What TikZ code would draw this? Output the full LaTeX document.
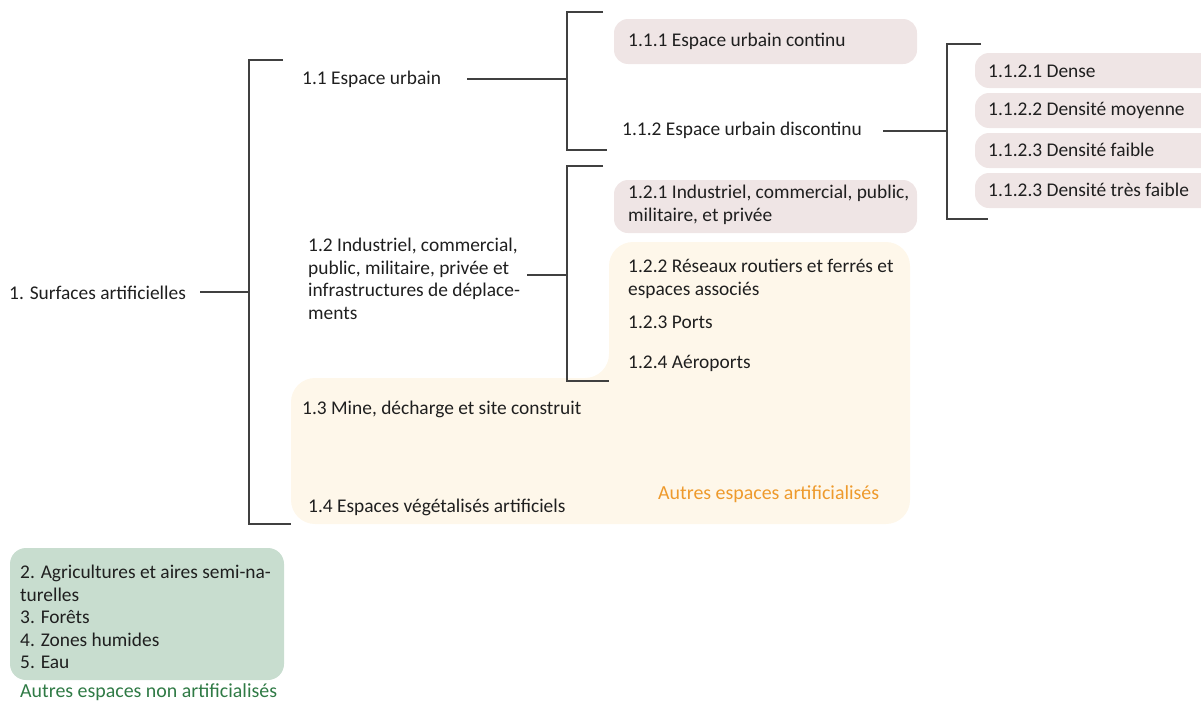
\documentclass[tikz,border=0pt]{standalone}
\usepackage{fontspec}
\setmainfont{Carlito}
\begin{document}
\begin{tikzpicture}[x=1pt,y=-1pt,
  txt/.style={anchor=west,inner sep=0pt,font=\fontsize{19.4}{22.5}\selectfont,text=black!88},
  captxt/.style={anchor=west,inner sep=0pt,font=\fontsize{19.9}{22.5}\selectfont},
  brk/.style={draw=black!75,line width=1.6pt},
]
\definecolor{pinkc}{HTML}{EFE5E5}
\definecolor{peachc}{HTML}{FEF7EA}
\definecolor{greenc}{HTML}{C8DDCF}
\definecolor{orangec}{HTML}{EE9A2C}
\definecolor{greentxt}{HTML}{2F7A45}
\useasboundingbox (0,0) rectangle (1201,707);

% background shapes
\fill[peachc,rounded corners=24pt] (291,524) -- (291,378) -- (609,378) -- (609,242) -- (910,242) -- (910,524) -- cycle;
\fill[pinkc,rounded corners=14pt] (614,19) rectangle (917,64);
\fill[pinkc,rounded corners=14pt] (614,180) rectangle (917,233);
\foreach \a/\b in {53/88,93/128,133/168,173/208}
  \fill[pinkc,rounded corners=14pt] (975,\a) rectangle (1215,\b);
\fill[greenc,rounded corners=16pt] (10,548) rectangle (284,680);

% labels
\node[txt] (root) at (9,293) {1. Surfaces artificielles};
\node[txt] (n11) at (302,79) {1.1 Espace urbain};
\node[txt,align=left] (n12) at (308,279) {1.2 Industriel, commercial,\\public, militaire, privée et\\infrastructures de déplace-\\ments};
\node[txt] (n13) at (302,409) {1.3 Mine, décharge et site construit};
\node[txt] (n14) at (308,507) {1.4 Espaces végétalisés artificiels};
\node[txt] (n111) at (628,41) {1.1.1 Espace urbain continu};
\node[txt] (n112) at (622,130) {1.1.2 Espace urbain discontinu};
\node[txt,align=left] (n121) at (628,205) {1.2.1 Industriel, commercial, public,\\militaire, et privée};
\node[txt,align=left] (n122) at (628,279) {1.2.2 Réseaux routiers et ferrés et\\espaces associés};
\node[txt] (n123) at (628,322) {1.2.3 Ports};
\node[txt] (n124) at (628,363) {1.2.4 Aéroports};
\node[captxt,text=orangec] (autres) at (658,494) {Autres espaces artificialisés};
\node[txt] (d1) at (988,71) {1.1.2.1 Dense};
\node[txt] (d2) at (988,110) {1.1.2.2 Densité moyenne};
\node[txt] (d3) at (988,150) {1.1.2.3 Densité faible};
\node[txt] (d4) at (988,190) {1.1.2.3 Densité très faible};
\node[txt,align=left] (others) at (20,617) {2. Agricultures et aires semi-na-\\turelles\\3. Forêts\\4. Zones humides\\5. Eau};
\node[captxt,text=greentxt] (nonart) at (20,692) {Autres espaces non artificialisés};

% bracket coordinates
\coordinate (b1t) at (283,60);
\coordinate (b1tc) at (249,60);
\coordinate (b1m) at (249,292);
\coordinate (b1bc) at (249,524);
\coordinate (b1b) at (291,524);
\coordinate (s1) at (200,292);

\coordinate (b2t) at (603,12);
\coordinate (b2tc) at (567,12);
\coordinate (b2m) at (567,79);
\coordinate (b2bc) at (567,150);
\coordinate (b2b) at (607,150);
\coordinate (s2) at (467,79);

\coordinate (b3t) at (603,166);
\coordinate (b3tc) at (567,166);
\coordinate (b3m) at (567,275);
\coordinate (b3bc) at (567,381);
\coordinate (b3b) at (609,381);
\coordinate (s3) at (527,275);

\coordinate (b4t) at (981,44);
\coordinate (b4tc) at (947,44);
\coordinate (b4m) at (947,131);
\coordinate (b4bc) at (947,219);
\coordinate (b4b) at (988,219);
\coordinate (s4) at (883,131);

\foreach \i in {1,2,3,4}{
  \draw[brk] (b\i t) -- (b\i tc) -- (b\i bc) -- (b\i b);
  \draw[brk] (s\i) -- (b\i m);
}
\end{tikzpicture}
\end{document}
